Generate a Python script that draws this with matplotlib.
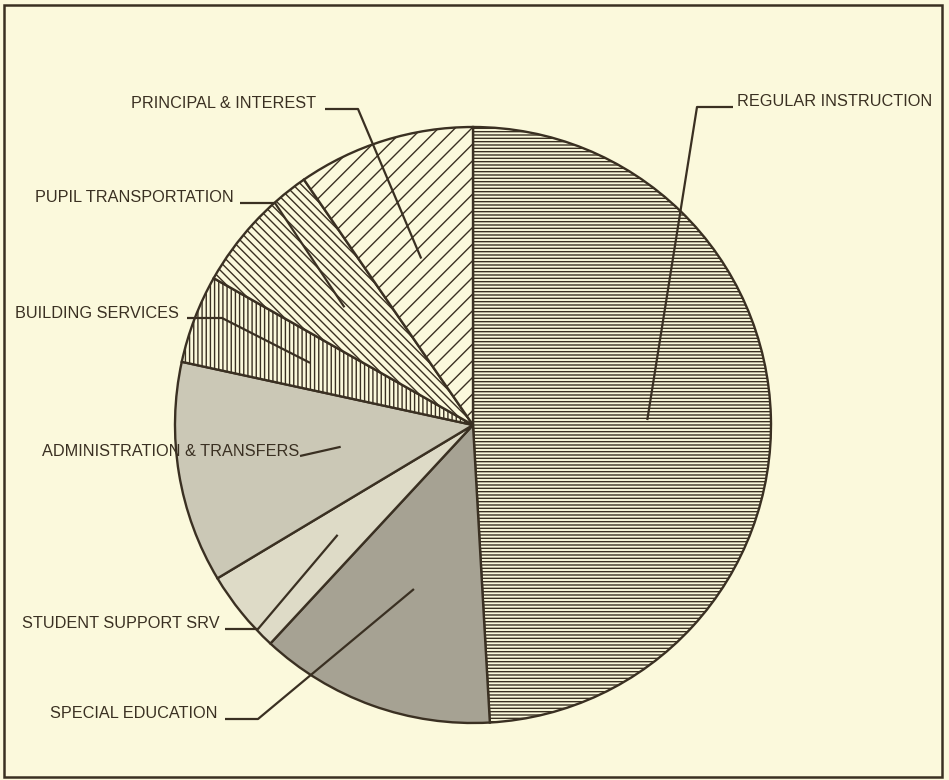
import numpy as np
import matplotlib.pyplot as plt
from matplotlib.patches import Rectangle

# ---------------------------------------------------------------
# DATA  (share of budget, %)
# ---------------------------------------------------------------
categories = ["REGULAR INSTRUCTION", "SPECIAL EDUCATION", "STUDENT SUPPORT SRV",
              "ADMINISTRATION & TRANSFERS", "BUILDING SERVICES",
              "PUPIL TRANSPORTATION", "PRINCIPAL & INTEREST"]
shares = [49.1, 12.8, 4.5, 12.0, 4.8, 7.2, 9.6]

# ---------------------------------------------------------------
# STYLE / LAYOUT  (image pixel coords, y measured from the top)
# ---------------------------------------------------------------
W, H = 949, 780
paper = "#fbf9dc"
ink = "#3a3022"
fills = [paper, "#a6a293", "#dedbc7", "#cbc8b6", paper, paper, paper]
hatches = ["-----", None, None, None, "||||", "\\\\\\\\", "//"]

cx, cy, R = 473, 425, 298

# text anchor (x, y, ha) and start/end x of the short horizontal leader
label_pos = [(737, 101, "left"), (218, 714, "right"), (220, 624, "right"),
             (299, 451, "right"), (179, 313, "right"), (234, 197, "right"),
             (316, 104, "right")]
leader_y = [107, 719, 629, 456, 318, 203, 109]
leader_x = [(733, 697), (225, 258), (225, 258), (300, 300), (187, 222),
            (240, 275), (325, 358)]

plt.rcParams["hatch.linewidth"] = 1.0
plt.rcParams["font.family"] = ["Liberation Sans", "DejaVu Sans"]

fig = plt.figure(figsize=(W / 100, H / 100), dpi=100, facecolor=paper)
ax = fig.add_axes([0, 0, 1, 1])
ax.set_facecolor(paper)

# pie (y up inside the axes, so flip the centre)
wedges, _ = ax.pie(shares, startangle=90, counterclock=False,
                   center=(cx, H - cy), radius=R, colors=fills,
                   wedgeprops=dict(edgecolor=ink, linewidth=1.7))
for w, h in zip(wedges, hatches):
    if h:
        w.set_hatch(h)

ax.set_xlim(0, W)
ax.set_ylim(0, H)
ax.set_aspect("equal")
ax.axis("off")

# labels with leader lines pointing at the middle of each wedge
for w, name, (tx, ty, ha), ly, (x0, x1) in zip(wedges, categories, label_pos,
                                               leader_y, leader_x):
    mid = np.deg2rad((w.theta1 + w.theta2) / 2)
    r_in = 0.585 * R if name != "ADMINISTRATION & TRANSFERS" else 0.45 * R
    px = cx + r_in * np.cos(mid)
    py = (H - cy) + r_in * np.sin(mid)
    ax.text(tx, H - ty, name, ha=ha, va="center", fontsize=11.7, color=ink)
    ax.plot([x0, x1, px], [H - ly, H - ly, py], color=ink, lw=1.6,
            solid_capstyle="butt")

# frame round the chart
ax.add_patch(Rectangle((4, H - 777), 938, 772, fill=False, edgecolor=ink,
                       lw=1.8))

fig.savefig("out.png", dpi=100, facecolor=paper)
